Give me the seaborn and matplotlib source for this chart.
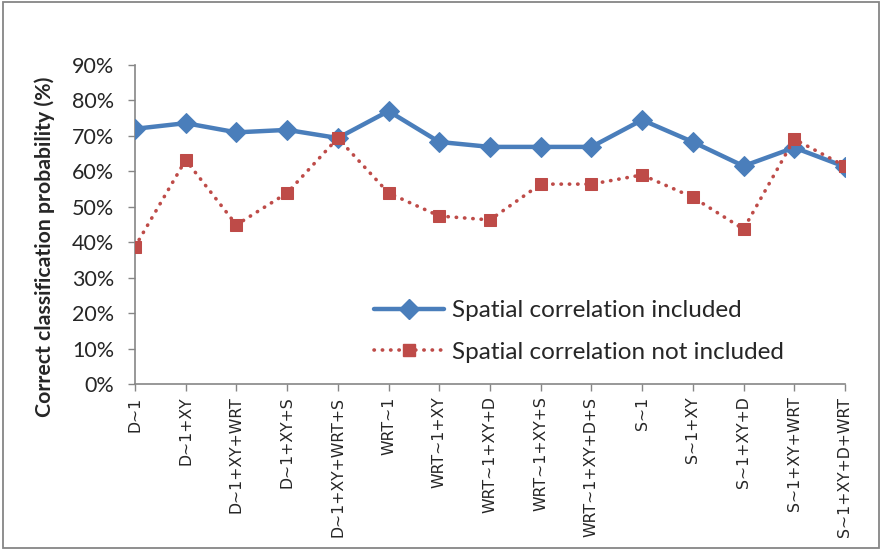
import matplotlib
matplotlib.use("Agg")
import matplotlib.pyplot as plt
import seaborn as sns
import pandas as pd
from matplotlib.lines import Line2D
from matplotlib.patches import Rectangle
from matplotlib.ticker import PercentFormatter, FixedLocator

categories = ["D~1", "D~1+XY", "D~1+XY+WRT", "D~1+XY+S", "D~1+XY+WRT+S",
              "WRT~1", "WRT~1+XY", "WRT~1+XY+D", "WRT~1+XY+S", "WRT~1+XY+D+S",
              "S~1", "S~1+XY", "S~1+XY+D", "S~1+XY+WRT", "S~1+XY+D+WRT"]
included = [72.0, 73.6, 71.0, 71.7, 69.4, 77.0, 68.3, 66.9, 66.9, 66.9,
            74.5, 68.3, 61.5, 66.7, 61.3]
not_included = [38.7, 63.2, 44.9, 53.9, 69.4, 53.9, 47.4, 46.3, 56.4, 56.4,
                59.0, 52.7, 43.7, 69.1, 61.5]
series_names = ["Spatial correlation included", "Spatial correlation not included"]
y_ticks = [0, 10, 20, 30, 40, 50, 60, 70, 80, 90]

sns.set_style("white")
plt.rcParams["font.family"] = ["Lato", "DejaVu Sans"]

df = pd.DataFrame({
    "pos": list(range(len(categories))) * 2,
    "value": included + not_included,
    "series": [series_names[0]] * len(categories) + [series_names[1]] * len(categories),
})

fig = plt.figure(figsize=(8.82, 5.51), dpi=100)
ax = fig.add_axes([0.153, 0.303, 0.805, 0.579])

blue = "#4A7EBB"
red = "#BE4B48"

d1 = df[df.series == series_names[0]]
d2 = df[df.series == series_names[1]]
sns.lineplot(data=d1, x="pos", y="value", ax=ax, color=blue, linewidth=3.2,
             marker="D", markersize=10, markeredgecolor=blue, sort=False,
             legend=False, zorder=3)
sns.lineplot(data=d2, x="pos", y="value", ax=ax, color=red, linewidth=2.6,
             linestyle=(0, (0.1, 2.2)),
             marker="s", markersize=8.5, markeredgecolor=red, sort=False,
             legend=False, zorder=4)
for ln in ax.get_lines():
    ln.set_dash_capstyle("round")
    ln.set_solid_capstyle("round")

ax.set_xlim(0, len(categories) - 1)
ax.set_ylim(0, 90)
ax.yaxis.set_major_locator(FixedLocator(y_ticks))
ax.yaxis.set_major_formatter(PercentFormatter(decimals=0))
ax.set_xticks(range(len(categories)))
ax.set_xticklabels(categories, rotation=90, fontsize=11.3, family="DejaVu Sans")
ax.tick_params(axis="y", labelsize=15.5, length=5, width=1, color="#868686", direction="out", left=True, pad=10)
ax.tick_params(axis="x", length=5, width=1, color="#868686", direction="out", bottom=True, pad=4)
for s in ["top", "right"]:
    ax.spines[s].set_visible(False)
for s in ["left", "bottom"]:
    ax.spines[s].set_color("#868686")
    ax.spines[s].set_linewidth(1.2)
ax.set_xlabel("")
ax.set_ylabel("Correct classification probability (%)", fontsize=15.3, fontweight="bold")
ax.yaxis.set_label_coords(-0.112, 0.43)

handles = [
    Line2D([], [], color=blue, linewidth=3.2, marker="D", markersize=10, markeredgecolor=blue,
           solid_capstyle="round"),
    Line2D([], [], color=red, linewidth=2.6, linestyle=(0, (0.1, 2.2)), dash_capstyle="round",
           marker="s", markersize=8.5, markeredgecolor=red),
]
fig.legend(handles, series_names, loc="upper left", bbox_to_anchor=(0.424, 0.455),
           frameon=False, fontsize=17.5, handlelength=2.9, handletextpad=0.3,
           labelspacing=0.85, borderaxespad=0, borderpad=0)

fig.patches.append(Rectangle((0.003, 0.006), 0.994, 0.99, transform=fig.transFigure,
                             fill=False, edgecolor="#868686", linewidth=1.3))

fig.savefig("out.png", dpi=100)
